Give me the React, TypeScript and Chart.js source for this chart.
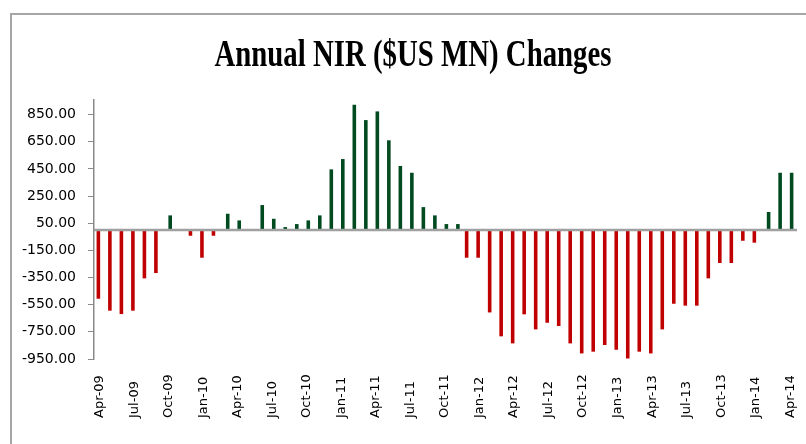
import React, { useEffect, useRef } from "react";
import { Chart, registerables } from "chart.js";

Chart.register(...registerables);

const chartTitle = "Annual NIR ($US MN) Changes";

const months = [
  "Apr-09", "May-09", "Jun-09", "Jul-09", "Aug-09", "Sep-09", "Oct-09", "Nov-09", "Dec-09",
  "Jan-10", "Feb-10", "Mar-10", "Apr-10", "May-10", "Jun-10", "Jul-10", "Aug-10", "Sep-10",
  "Oct-10", "Nov-10", "Dec-10", "Jan-11", "Feb-11", "Mar-11", "Apr-11", "May-11", "Jun-11",
  "Jul-11", "Aug-11", "Sep-11", "Oct-11", "Nov-11", "Dec-11", "Jan-12", "Feb-12", "Mar-12",
  "Apr-12", "May-12", "Jun-12", "Jul-12", "Aug-12", "Sep-12", "Oct-12", "Nov-12", "Dec-12",
  "Jan-13", "Feb-13", "Mar-13", "Apr-13", "May-13", "Jun-13", "Jul-13", "Aug-13", "Sep-13",
  "Oct-13", "Nov-13", "Dec-13", "Jan-14", "Feb-14", "Mar-14", "Apr-14",
];

const nirChange = [
  -506, -594, -619, -594, -356, -317, 108, 5, -42,
  -204, -42, 120, 71, 5, 184, 83, 22, 44,
  71, 108, 447, 523, 923, 810, 874, 661, 472,
  422, 169, 108, 44, 44, -204, -204, -607, -783,
  -835, -621, -732, -683, -707, -835, -909, -896, -847,
  -882, -946, -896, -909, -732, -543, -557, -557, -356,
  -243, -243, -79, -93, 133, 422, 422,
];

const yTicks = [-950, -750, -550, -350, -150, 50, 250, 450, 650, 850];
const yMin = -950;
const yMax = 958;

const negativeValues = nirChange.map((v) => (v < 0 ? v : null));
const positiveValues = nirChange.map((v) => (v > 0 ? v : null));

export default function App() {
  const ref = useRef<HTMLCanvasElement>(null);

  useEffect(() => {
    const canvas = ref.current;
    if (!canvas) return;

    const titlePlugin = {
      id: "condTitle",
      afterDraw(chart: any) {
        const c = chart.ctx;
        c.save();
        c.font = 'bold 38px "Liberation Serif"';
        const w = c.measureText(chartTitle).width;
        const sx = 397 / w;
        c.translate(413, 66);
        c.scale(sx, 1);
        c.textAlign = "center";
        c.textBaseline = "alphabetic";
        c.fillStyle = "#000";
        c.fillText(chartTitle, 0, 0);
        c.restore();
      },
    };

    const zeroLine = {
      id: "zeroLine",
      afterDatasetsDraw(chart: any) {
        const c = chart.ctx;
        const y = chart.scales.y.getPixelForValue(0);
        const { left, right } = chart.chartArea;
        c.save();
        c.strokeStyle = "#a0a0a0";
        c.lineWidth = 2.5;
        c.beginPath();
        c.moveTo(left, y);
        c.lineTo(right + 1, y);
        c.stroke();
        c.restore();
      },
    };

    const xLabels = {
      id: "xLabels",
      afterDraw(chart: any) {
        const c = chart.ctx;
        const xs = chart.scales.x;
        c.save();
        c.font = '13px "DejaVu Sans"';
        c.fillStyle = "#000";
        c.textAlign = "left";
        c.textBaseline = "middle";
        for (let i = 0; i < months.length; i += 3) {
          const x = xs.getPixelForValue(i);
          c.save();
          c.translate(x, 418);
          c.rotate(-Math.PI / 2);
          c.fillText(months[i], 0, 0);
          c.restore();
        }
        c.restore();
      },
    };

    const chart = new Chart(canvas, {
      type: "bar",
      data: {
        labels: months,
        datasets: [
          {
            label: "Negative",
            data: negativeValues,
            backgroundColor: "#c00000",
            borderWidth: 0,
          },
          {
            label: "Positive",
            data: positiveValues,
            backgroundColor: "#004a20",
            borderWidth: 0,
          },
        ],
      },
      options: {
        responsive: false,
        animation: false,
        devicePixelRatio: 1,
        layout: { padding: { top: 100, right: 10, bottom: 0, left: 0 } },
        datasets: {
          bar: { categoryPercentage: 0.48, barPercentage: 1.3 },
        },
        plugins: {
          legend: { display: false },
          tooltip: { enabled: false },
          title: { display: false },
        },
        scales: {
          x: {
            ticks: { display: false },
            grid: { display: false },
            border: { display: false },
            afterFit: (s: any) => {
              s.height = 85;
            },
          },
          y: {
            min: yMin,
            max: yMax,
            afterBuildTicks: (s: any) => {
              s.ticks = yTicks.map((v) => ({ value: v }));
            },
            afterFit: (s: any) => {
              s.width = 94;
            },
            ticks: {
              padding: 12,
              color: "#000",
              font: { family: '"DejaVu Sans"', size: 14 },
              callback: (v: any) => Number(v).toFixed(2),
            },
            grid: {
              drawOnChartArea: false,
              drawTicks: true,
              tickLength: 6,
              color: "#898989",
              lineWidth: 1,
            },
            border: { display: true, color: "#898989", width: 1.5 },
          },
        },
      },
      plugins: [zeroLine, xLabels, titlePlugin],
    });

    return () => chart.destroy();
  }, []);

  return (
    <div
      style={{
        position: "absolute",
        left: 0,
        top: 0,
        width: 806,
        height: 444,
        overflow: "hidden",
        background: "#fff",
      }}
    >
      <div
        style={{
          position: "absolute",
          left: 10,
          top: 13,
          width: 830,
          height: 470,
          borderTop: "2px solid #a6a6a6",
          borderLeft: "2px solid #a6a6a6",
        }}
      />
      <canvas
        ref={ref}
        width={806}
        height={444}
        style={{ position: "absolute", left: 0, top: 0 }}
      />
    </div>
  );
}
